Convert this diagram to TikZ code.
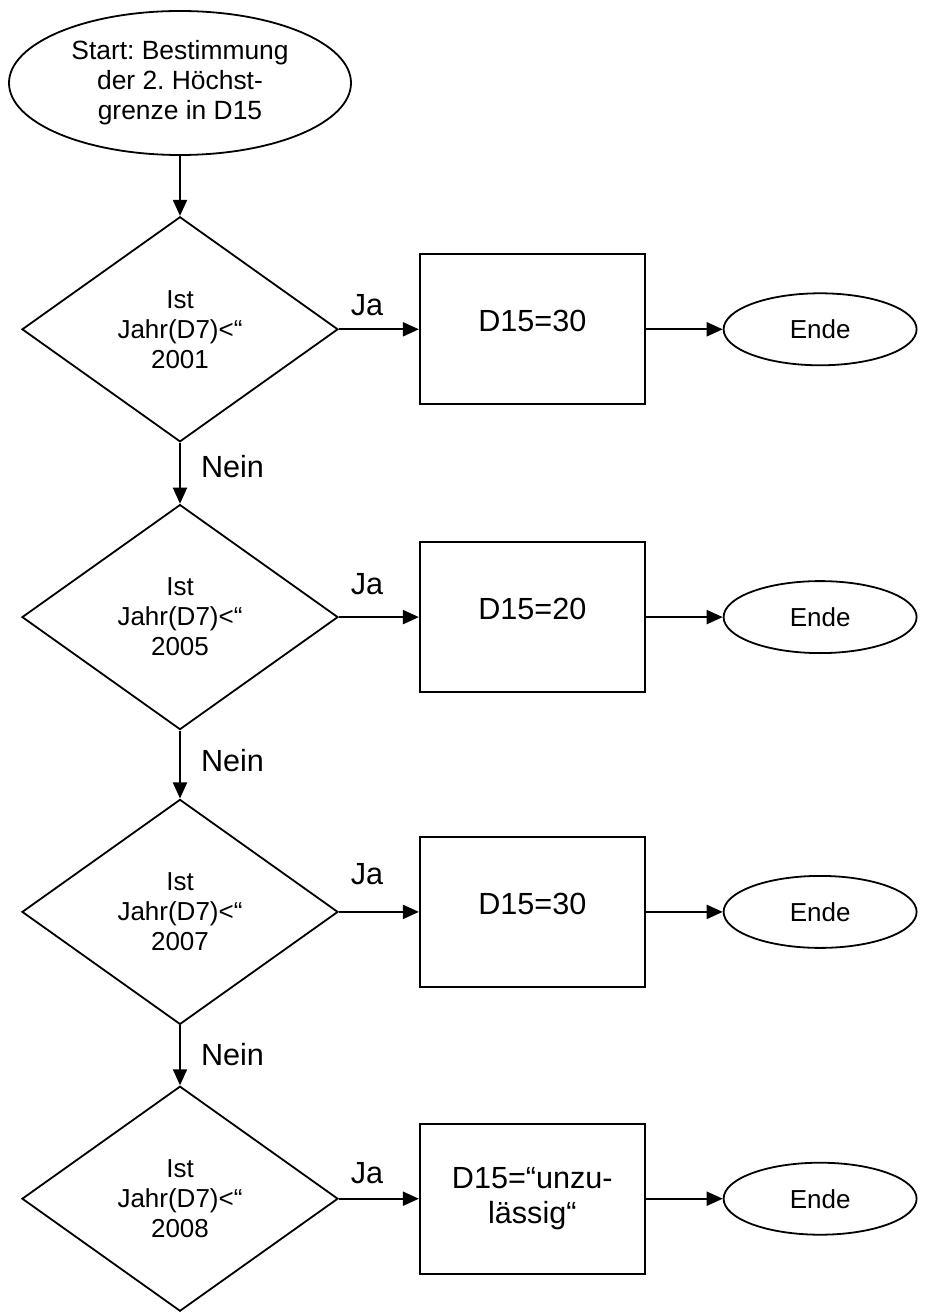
\documentclass[tikz,border=0pt]{standalone}
\usepackage{fontspec}
\setmainfont{Liberation Sans}
\frenchspacing
\usetikzlibrary{positioning,arrows.meta,shapes.geometric}
\definecolor{ink}{HTML}{000000}

\begin{document}
\begin{tikzpicture}[
    x=0.5pt, y=-0.5pt,
    node distance=30pt and 40pt,
    base/.style={draw=ink, line width=0.9pt, align=center, inner sep=0pt},
    startnode/.style={base, ellipse, minimum width=171pt, minimum height=72pt,
                      font=\fontsize{13.2}{15}\selectfont},
    ask/.style={base, diamond, minimum width=158pt, minimum height=112.5pt,
                font=\fontsize{13}{15}\selectfont},
    setbox/.style={base, rectangle, minimum width=112.5pt, minimum height=75pt,
                   font=\fontsize{15.3}{17.5}\selectfont},
    highset/.style={setbox, text depth=8pt},
    endnode/.style={base, ellipse, minimum width=96.5pt, minimum height=36pt,
                    font=\fontsize{13}{15}\selectfont},
    flow/.style={-{Triangle[length=8pt,width=7pt]}, draw=ink, line width=1pt},
    lbl/.style={font=\fontsize{15.3}{17}\selectfont, inner sep=1pt},
  ]
  \useasboundingbox (0,0) rectangle (938,1315);

  \node[startnode] at (180,83) (start) {Start: Bestimmung\\der 2. Höchst-\\grenze in D15};

  \node[ask, below=30pt of start]    (q1) {Ist\\Jahr(D7)<“\\2001};
  \node[highset, right=40pt of q1]   (s1) {D15=30};
  \node[endnode, right=38.5pt of s1] (e1) {Ende};

  \node[ask, below=30.5pt of q1]     (q2) {Ist\\Jahr(D7)<“\\2005};
  \node[highset, right=40pt of q2]   (s2) {D15=20};
  \node[endnode, right=38.5pt of s2] (e2) {Ende};

  \node[ask, below=34pt of q2]       (q3) {Ist\\Jahr(D7)<“\\2007};
  \node[highset, right=40pt of q3]   (s3) {D15=30};
  \node[endnode, right=38.5pt of s3] (e3) {Ende};

  % last check: no "Nein" branch leaves it
  \node[ask, below=30pt of q3]       (q4) {Ist\\Jahr(D7)<“\\2008};
  \node[setbox, right=40pt of q4]    (s4) {D15=“unzu-\\lässig“};
  \node[endnode, right=38.5pt of s4] (e4) {Ende};

  \draw[flow] (start) -- (q1);

  \draw[flow] (q1) -- node[lbl, above=5pt, pos=.35] {Ja} (s1);
  \draw[flow] (s1) -- (e1);
  \draw[flow] (q1) -- node[lbl, right=9pt, pos=.39] {Nein} (q2);

  \draw[flow] (q2) -- node[lbl, above=9.5pt, pos=.35] {Ja} (s2);
  \draw[flow] (s2) -- (e2);
  \draw[flow] (q2) -- node[lbl, right=9pt, pos=.44] {Nein} (q3);

  \draw[flow] (q3) -- node[lbl, above=12pt, pos=.35] {Ja} (s3);
  \draw[flow] (s3) -- (e3);
  \draw[flow] (q3) -- node[lbl, right=9pt, pos=.48] {Nein} (q4);

  \draw[flow] (q4) -- node[lbl, above=6pt, pos=.35] {Ja} (s4);
  \draw[flow] (s4) -- (e4);
\end{tikzpicture}
\end{document}
